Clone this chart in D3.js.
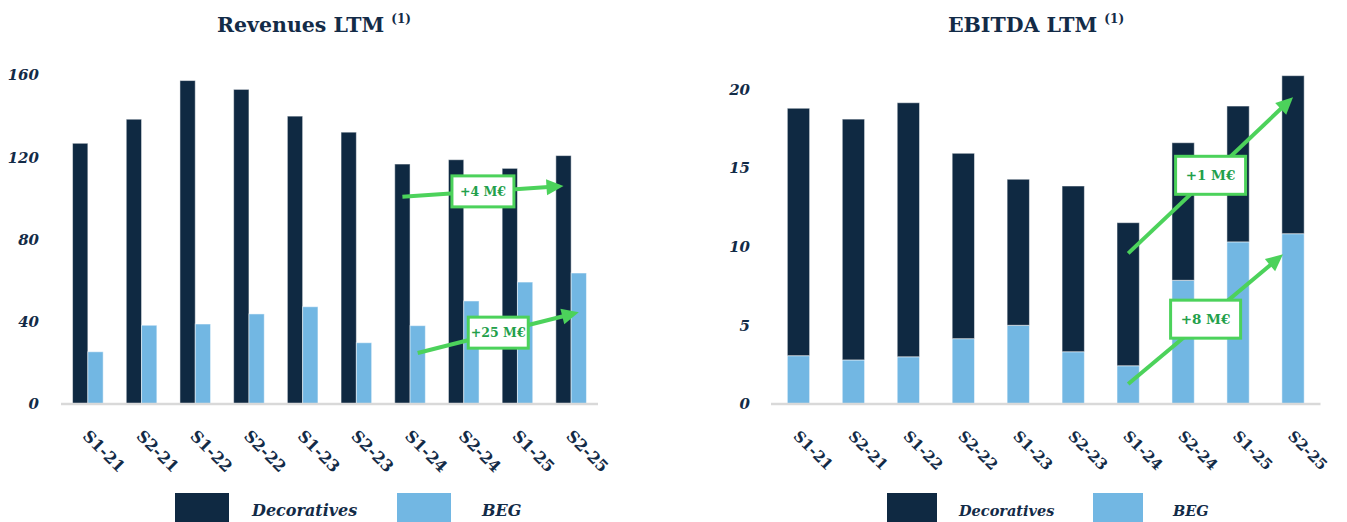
<!DOCTYPE html>
<html>
<head>
<meta charset="utf-8">
<script src="https://cdn.jsdelivr.net/npm/d3@7"></script>
<style>
  body { margin: 0; background: #fff; }
  svg { display: block; }
</style>
</head>
<body>
<svg id="chart" width="1347" height="522"></svg>
<script>
// --- data ---
const categories = ["S1-21", "S2-21", "S1-22", "S2-22", "S1-23", "S2-23", "S1-24", "S2-24", "S1-25", "S2-25"];
const seriesNames = ["Decoratives", "BEG"];

const revDecoratives = [126.8, 138.5, 157.3, 153.0, 140.0, 132.2, 116.7, 118.8, 114.6, 120.8];
const revBEG = [25.4, 38.3, 38.9, 43.8, 47.3, 29.8, 38.1, 50.1, 59.3, 63.7];
const revTicks = [0, 40, 80, 120, 160];

const ebitdaBEG = [3.07, 2.8, 3.0, 4.15, 5.0, 3.32, 2.43, 7.86, 10.3, 10.82];
const ebitdaDecoratives = [15.72, 15.3, 16.14, 11.78, 9.28, 10.53, 9.09, 8.74, 8.63, 10.04];
const ebitdaTicks = [0, 5, 10, 15, 20];

// arrows: from category/value to category/value
const revArrows = [
    { series: "Decoratives", from: "S1-24", v0: 100.8, to: "S2-25", v1: 106, label: "+4 M€" },
    { series: "BEG", from: "S1-24", v0: 24.8, to: "S2-25", v1: 44.6, label: "+25 M€" }
];
const ebitdaArrows = [
    { from: "S1-24", v0: 9.57, to: "S2-25", v1: 19.49, label: "+1 M€" },
    { from: "S1-24", v0: 1.27, to: "S2-25", v1: 9.51, label: "+8 M€" }
];

// --- style ---
const NAVY = "#0f2942", LIGHT = "#72b7e3", GREEN = "#4cd25b", GREEN_TXT = "#22a04a";
const TEXT = "#132b47", AXIS = "#d9d9d9";
const FONT = "'DejaVu Serif', 'Liberation Serif', serif";
const color = d3.scaleOrdinal().domain(seriesNames).range([NAVY, LIGHT]);

const svg = d3.select("#chart");

function title(x, text) {
    const t = svg.append("text")
        .attr("x", x).attr("y", 32)
        .attr("text-anchor", "middle")
        .attr("font-family", FONT).attr("font-weight", "bold")
        .attr("font-size", 20.5).attr("fill", TEXT);
    t.append("tspan").text(text + " ");
    t.append("tspan").attr("font-size", 12).attr("dy", -9).text("(1)");
}

function yAxis(g, y, xLeft, pad) {
    g.append("g")
        .attr("transform", `translate(${xLeft},0)`)
        .call(d3.axisLeft(y).tickValues(y.ticksList).tickSize(0).tickPadding(pad))
        .call(a => a.select(".domain").remove())
        .selectAll("text")
        .attr("font-family", FONT).attr("font-weight", "bold").attr("font-style", "italic")
        .attr("font-size", 15).attr("fill", TEXT);
}

function xAxis(g, x, y, fontSize, dx) {
    const [r0, r1] = x.range();
    g.append("line")
        .attr("x1", r0).attr("x2", r1)
        .attr("y1", y(0)).attr("y2", y(0))
        .attr("stroke", AXIS).attr("stroke-width", 2.5);
    g.append("g")
        .attr("transform", `translate(0,${y(0)})`)
        .call(d3.axisBottom(x).tickSize(0))
        .call(a => a.select(".domain").remove())
        .selectAll("text")
        .attr("x", 0).attr("y", 0).attr("dy", 0)
        .attr("text-anchor", "start")
        .attr("transform", `translate(${dx},33) rotate(45)`)
        .attr("font-family", FONT).attr("font-weight", "bold")
        .attr("font-size", fontSize).attr("fill", TEXT);
}

function legend(g, items) {
    items.forEach(it => {
        g.append("rect").attr("x", it.x).attr("y", 493).attr("width", it.w).attr("height", 30)
            .attr("fill", color(it.name));
        g.append("text").attr("x", it.tx).attr("y", 516)
            .attr("font-family", FONT).attr("font-weight", "bold").attr("font-style", "italic")
            .attr("font-size", it.fs).attr("fill", TEXT).text(it.name);
    });
}

function arrow(g, p0, p1, label, bw, bh, fs) {
    const dx = p1[0] - p0[0], dy = p1[1] - p0[1];
    const len = Math.hypot(dx, dy), ux = dx / len, uy = dy / len;
    const head = 17, half = 8;
    g.append("line")
        .attr("x1", p0[0]).attr("y1", p0[1])
        .attr("x2", p1[0] - ux * (head - 2)).attr("y2", p1[1] - uy * (head - 2))
        .attr("stroke", GREEN).attr("stroke-width", 4);
    const bx = p1[0] - ux * head, by = p1[1] - uy * head;
    g.append("path")
        .attr("d", `M${p1[0]},${p1[1]}L${bx - uy * half},${by + ux * half}L${bx + uy * half},${by - ux * half}Z`)
        .attr("fill", GREEN);
    const mx = (p0[0] + p1[0]) / 2, my = (p0[1] + p1[1]) / 2;
    g.append("rect")
        .attr("x", mx - bw / 2).attr("y", my - bh / 2)
        .attr("width", bw).attr("height", bh)
        .attr("fill", "#fff").attr("stroke", GREEN).attr("stroke-width", 3);
    g.append("text")
        .attr("x", mx).attr("y", my).attr("dy", "0.36em")
        .attr("text-anchor", "middle")
        .attr("font-family", FONT).attr("font-weight", "bold")
        .attr("font-size", fs).attr("fill", GREEN_TXT).text(label);
}

// --- Revenues LTM (grouped) ---
{
    const g = svg.append("g");
    const x0 = d3.scaleBand().domain(categories).range([61, 598]).paddingInner(0.43).paddingOuter(0.215);
    const x1 = d3.scaleBand().domain(seriesNames).range([0, x0.bandwidth()]);
    const y = d3.scaleLinear().domain([0, 160]).range([404, 75]);
    y.ticksList = revTicks;

    const rows = categories.map((c, i) => ({ cat: c, Decoratives: revDecoratives[i], BEG: revBEG[i] }));
    g.append("g").selectAll("g").data(rows).join("g")
        .attr("transform", d => `translate(${x0(d.cat)},0)`)
        .selectAll("rect")
        .data(d => seriesNames.map(s => ({ s, v: d[s] })))
        .join("rect")
        .attr("x", d => x1(d.s)).attr("width", x1.bandwidth())
        .attr("y", d => y(d.v)).attr("height", d => y(0) - y(d.v))
        .attr("fill", d => color(d.s))
        .attr("stroke", "#fff").attr("stroke-opacity", 0.5).attr("stroke-width", 1);

    xAxis(g, x0, y, 16, -6);
    yAxis(g, y, 61, 22);
    title(314, "Revenues LTM");

    const cx = (c, s) => x0(c) + x1(s) + x1.bandwidth() / 2;
    revArrows.forEach((a, i) => {
        arrow(g, [cx(a.from, a.series), y(a.v0)], [cx(a.to, a.series), y(a.v1)], a.label, i === 0 ? 62 : 60, 31, 12.5);
    });

    legend(g, [
        { name: "Decoratives", x: 175, w: 54, tx: 252, fs: 16 },
        { name: "BEG", x: 397, w: 54, tx: 482, fs: 16 }
    ]);
}

// --- EBITDA LTM (stacked) ---
{
    const g = svg.append("g");
    const x = d3.scaleBand().domain(categories).range([771, 1320.5]).paddingInner(0.594).paddingOuter(0.297);
    const y = d3.scaleLinear().domain([0, 20]).range([404, 89.2]);
    y.ticksList = ebitdaTicks;

    const rows = categories.map((c, i) => ({ cat: c, Decoratives: ebitdaDecoratives[i], BEG: ebitdaBEG[i] }));
    const stacked = d3.stack().keys(["BEG", "Decoratives"])(rows);
    g.append("g").selectAll("g").data(stacked).join("g")
        .attr("fill", d => color(d.key))
        .selectAll("rect")
        .data(d => d)
        .join("rect")
        .attr("x", d => x(d.data.cat)).attr("width", x.bandwidth())
        .attr("y", d => y(d[1])).attr("height", d => y(d[0]) - y(d[1]))
        .attr("stroke", "#fff").attr("stroke-opacity", 0.5).attr("stroke-width", 1);

    xAxis(g, x, y, 15, -6);
    yAxis(g, y, 771, 21);
    title(1036, "EBITDA LTM");

    const cx = c => x(c) + x.bandwidth() / 2;
    ebitdaArrows.forEach((a, i) => {
        const shift = i === 1 ? -10 : 0;
        arrow(g, [cx(a.from), y(a.v0)], [cx(a.to) + shift, y(a.v1)], a.label, 70, 38, 13.5);
    });

    legend(g, [
        { name: "Decoratives", x: 887, w: 50, tx: 959, fs: 14.5 },
        { name: "BEG", x: 1093, w: 50, tx: 1173, fs: 14.5 }
    ]);
}
</script>
</body>
</html>
